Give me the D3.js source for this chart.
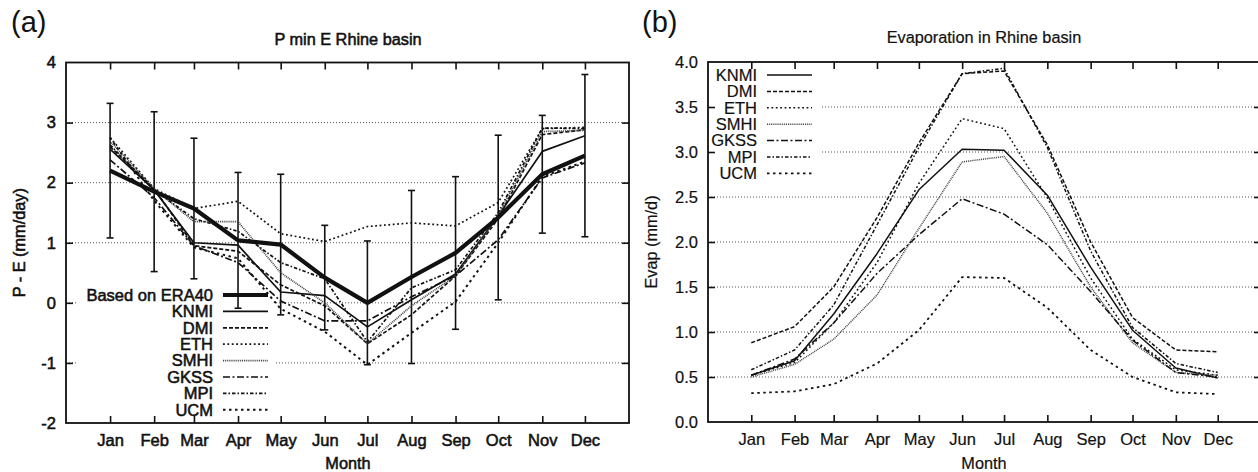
<!DOCTYPE html>
<html>
<head>
<meta charset="utf-8">
<script src="https://cdn.jsdelivr.net/npm/d3@7"></script>
<style>
  body { margin: 0; background: #fff; }
  svg { display: block; font-family: "Liberation Sans", Arial, Helvetica, sans-serif; }
</style>
</head>
<body>
<svg id="chart" width="1258" height="472"></svg>
<script>
// ---- data ---------------------------------------------------------------
const months = ["Jan", "Feb", "Mar", "Apr", "May", "Jun", "Jul", "Aug", "Sep", "Oct", "Nov", "Dec"];
const modelNames = ["KNMI", "DMI", "ETH", "SMHI", "GKSS", "MPI", "UCM"];

// P - E (mm/day)
const pmeEra40    = [2.20, 1.85, 1.57, 1.04, 0.97, 0.42, 0.00, 0.43, 0.83, 1.42, 2.14, 2.45];
const pmeEra40Std = [1.12, 1.33, 1.17, 1.13, 1.17, 0.87, 1.03, 1.44, 1.27, 1.37, 0.98, 1.35];
const pmeKNMI = [2.56, 1.88, 1.00, 0.96, 0.18, 0.12, -0.40, 0.05, 0.48, 1.45, 2.52, 2.78];
const pmeDMI  = [2.60, 1.90, 0.95, 0.86, 0.30, -0.05, -0.68, -0.20, 0.45, 1.40, 2.80, 2.88];
const pmeETH  = [2.75, 1.90, 1.57, 1.69, 1.15, 1.02, 1.27, 1.33, 1.28, 1.67, 2.90, 2.92];
const pmeSMHI = [2.69, 1.90, 1.35, 1.35, 0.50, 0.00, -0.68, -0.05, 0.45, 1.45, 2.85, 2.87];
const pmeGKSS = [2.38, 1.75, 0.95, 0.67, 0.03, -0.30, -0.30, 0.10, 0.45, 1.05, 2.08, 2.33];
const pmeMPI  = [2.63, 1.88, 1.40, 1.19, 0.67, 0.40, -0.65, 0.25, 0.55, 1.50, 2.91, 2.90];
const pmeUCM  = [2.75, 1.70, 0.92, 0.74, -0.10, -0.48, -1.03, -0.50, 0.02, 1.00, 2.10, 2.35];

// Evaporation (mm/d)
const evapKNMI = [0.52, 0.68, 1.20, 1.87, 2.58, 3.03, 3.02, 2.52, 1.72, 1.02, 0.60, 0.49];
const evapDMI  = [0.88, 1.06, 1.50, 2.27, 3.10, 3.87, 3.90, 3.08, 2.00, 1.16, 0.80, 0.78];
const evapETH  = [0.52, 0.66, 1.10, 1.77, 2.65, 3.37, 3.26, 2.49, 1.60, 0.92, 0.58, 0.52];
const evapSMHI = [0.50, 0.64, 0.92, 1.41, 2.15, 2.89, 2.95, 2.32, 1.50, 0.88, 0.55, 0.52];
const evapGKSS = [0.52, 0.70, 1.10, 1.65, 2.08, 2.48, 2.31, 1.97, 1.45, 0.91, 0.55, 0.50];
const evapMPI  = [0.58, 0.80, 1.30, 2.19, 3.05, 3.87, 3.93, 3.05, 1.90, 1.05, 0.65, 0.55];
const evapUCM  = [0.32, 0.34, 0.42, 0.65, 1.02, 1.61, 1.60, 1.27, 0.80, 0.50, 0.33, 0.31];

const pmeTicks  = [-2, -1, 0, 1, 2, 3, 4];
const evapTicks = [0, 0.5, 1, 1.5, 2, 2.5, 3, 3.5, 4];

// ---- drawing ------------------------------------------------------------
const svg = d3.select("#chart");
const ink = "#111";

// mid-month dates placed on a calendar axis
const monthDates = months.map((m, i) => new Date(Date.UTC(2001, i, 15)));
const xDomain = [new Date(Date.UTC(2000, 11, 15)), new Date(Date.UTC(2002, 0, 15))];

const modelStyle = {
  KNMI: { dash: null },
  DMI:  { dash: "4,2" },
  ETH:  { dash: "1.8,2.6" },
  SMHI: { dash: "1,0.9", color: "#444" },
  GKSS: { dash: "7,2.5,2,2.5" },
  MPI:  { dash: "3.5,2,1.5,2" },
  UCM:  { dash: "2.5,3.5" }
};

function styleText(sel, cfg) {
  sel.attr("fill", ink)
     .attr("stroke", ink)
     .attr("stroke-width", cfg.textStroke)
     .attr("font-family", "Liberation Sans, Arial, sans-serif");
}

function drawPanel(cfg) {
  const g = svg.append("g");
  const x = d3.scaleUtc().domain(xDomain).range([cfg.left, cfg.right]);
  const y = d3.scaleLinear().domain(cfg.yDomain).range([cfg.bottom, cfg.top]);

  // horizontal dotted grid
  g.append("g").selectAll("line")
    .data(cfg.ticks.filter(t => t > cfg.yDomain[0] && t < cfg.yDomain[1]))
    .join("line")
    .attr("x1", cfg.left).attr("x2", cfg.right)
    .attr("y1", d => y(d)).attr("y2", d => y(d))
    .attr("stroke", "#555").attr("stroke-width", 1)
    .attr("stroke-dasharray", "1,2");

  // opaque key area hides the grid behind it
  g.append("rect")
    .attr("x", cfg.keyBox[0]).attr("y", cfg.keyBox[1])
    .attr("width", cfg.keyBox[2]).attr("height", cfg.keyBox[3])
    .attr("fill", "#fff");

  // axes: ticks inward on all four sides
  const tickLen = 7;
  const axL = d3.axisLeft(y).tickValues(cfg.ticks).tickFormat(cfg.fmt).tickSizeInner(-tickLen).tickSizeOuter(0).tickPadding(10);
  const axR = d3.axisRight(y).tickValues(cfg.ticks).tickFormat("").tickSizeInner(-tickLen).tickSizeOuter(0);
  const axB = d3.axisBottom(x).tickValues(monthDates).tickFormat((d, i) => months[i]).tickSizeInner(-tickLen).tickSizeOuter(0).tickPadding(11);
  const axT = d3.axisTop(x).tickValues(monthDates).tickFormat("").tickSizeInner(-tickLen).tickSizeOuter(0);

  const gl = g.append("g").attr("transform", `translate(${cfg.left},0)`).call(axL);
  const gr = g.append("g").attr("transform", `translate(${cfg.right},0)`).call(axR);
  const gb = g.append("g").attr("transform", `translate(0,${cfg.bottom})`).call(axB);
  const gt = g.append("g").attr("transform", `translate(0,${cfg.top})`).call(axT);
  [gl, gr, gb, gt].forEach(a => {
    a.select(".domain").remove();
    a.selectAll(".tick line").attr("stroke", ink).attr("stroke-width", 1.6);
    a.selectAll("text").attr("font-size", 16.5).call(styleText, cfg);
  });
  gl.selectAll(".tick line").filter(d => d === cfg.yDomain[0] || d === cfg.yDomain[1]).remove();
  gr.selectAll(".tick line").filter(d => d === cfg.yDomain[0] || d === cfg.yDomain[1]).remove();

  // frame
  g.append("rect")
    .attr("x", cfg.left).attr("y", cfg.top)
    .attr("width", cfg.right - cfg.left).attr("height", cfg.bottom - cfg.top)
    .attr("fill", "none").attr("stroke", ink).attr("stroke-width", 1.8);

  const line = d3.line().x((d, i) => x(monthDates[i])).y(d => y(d));

  // error bars
  if (cfg.errBase) {
    const eb = g.append("g").attr("stroke", ink).attr("stroke-width", 1.6);
    cfg.errBase.forEach((v, i) => {
      const cx = x(monthDates[i]);
      const lo = y(v - cfg.errStd[i]), hi = y(v + cfg.errStd[i]);
      eb.append("line").attr("x1", cx).attr("x2", cx).attr("y1", lo).attr("y2", hi);
      eb.append("line").attr("x1", cx - 3.5).attr("x2", cx + 3.5).attr("y1", lo).attr("y2", lo);
      eb.append("line").attr("x1", cx - 3.5).attr("x2", cx + 3.5).attr("y1", hi).attr("y2", hi);
    });
  }

  // model curves
  cfg.series.forEach(s => {
    g.append("path").datum(s.values)
      .attr("d", line)
      .attr("fill", "none")
      .attr("stroke", s.color || ink)
      .attr("stroke-width", s.width)
      .attr("stroke-linejoin", "round")
      .attr("stroke-dasharray", s.dash);
  });

  // key
  const key = g.append("g");
  cfg.keyOrder.forEach((s, i) => {
    const yy = cfg.keyY0 + i * cfg.keyStep;
    key.append("text")
      .attr("x", cfg.keyTextX).attr("y", yy).attr("dy", "0.35em")
      .attr("text-anchor", "end").attr("font-size", 16.5)
      .call(styleText, cfg)
      .text(s.name);
    key.append("line")
      .attr("x1", cfg.keyLine[0]).attr("x2", cfg.keyLine[1])
      .attr("y1", yy).attr("y2", yy)
      .attr("stroke", s.color || ink).attr("stroke-width", s.width)
      .attr("stroke-dasharray", s.dash);
  });

  // titles
  g.append("text").attr("x", cfg.titleX).attr("y", cfg.titleY)
    .attr("text-anchor", "middle").attr("font-size", 16.3).call(styleText, cfg).text(cfg.title);
  g.append("text").attr("x", cfg.titleX).attr("y", 469)
    .attr("text-anchor", "middle").attr("font-size", 16.3).call(styleText, cfg).text("Month");
  g.append("text")
    .attr("transform", `translate(${cfg.yLabelX},${(cfg.top + cfg.bottom) / 2}) rotate(-90)`)
    .attr("text-anchor", "middle").attr("dy", "0.35em")
    .attr("font-size", 16.3).call(styleText, cfg).text(cfg.yLabel);
  g.append("text").attr("x", cfg.letterX).attr("y", 32)
    .attr("font-size", 29).attr("fill", ink).text(cfg.letter);
}

// panel (a): P - E
const pmeSeries = [
  { name: "KNMI", values: pmeKNMI },
  { name: "DMI",  values: pmeDMI },
  { name: "ETH",  values: pmeETH },
  { name: "SMHI", values: pmeSMHI },
  { name: "GKSS", values: pmeGKSS },
  { name: "MPI",  values: pmeMPI },
  { name: "UCM",  values: pmeUCM }
].map(s => Object.assign(s, modelStyle[s.name], { width: s.name === "UCM" ? 2 : 1.7 }));
const era40 = { name: "Based on ERA40", values: pmeEra40, dash: null, width: 4.2 };

drawPanel({
  left: 66, right: 629, top: 62.5, bottom: 423,
  yDomain: [-2, 4], ticks: pmeTicks, fmt: d => String(d),
  errBase: pmeEra40, errStd: pmeEra40Std,
  series: pmeSeries.concat([era40]),
  keyOrder: [era40].concat(pmeSeries),
  keyBox: [76, 285, 200, 134],
  keyY0: 295, keyStep: 16.4, keyTextX: 213, keyLine: [223, 268],
  title: "P min E Rhine basin", titleX: 348, titleY: 45,
  yLabel: "P - E (mm/day)", yLabelX: 19,
  letter: "(a)", letterX: 11,
  textStroke: 0.55
});

// panel (b): evaporation
const evapSeries = [
  { name: "KNMI", values: evapKNMI },
  { name: "DMI",  values: evapDMI },
  { name: "ETH",  values: evapETH },
  { name: "SMHI", values: evapSMHI },
  { name: "GKSS", values: evapGKSS },
  { name: "MPI",  values: evapMPI },
  { name: "UCM",  values: evapUCM }
].map(s => Object.assign(s, modelStyle[s.name], { width: s.name === "UCM" ? 1.8 : 1.5 }));

drawPanel({
  left: 708, right: 1261, top: 62, bottom: 422,
  yDomain: [0, 4], ticks: evapTicks, fmt: d3.format(".1f"),
  errBase: null,
  series: evapSeries,
  keyOrder: evapSeries,
  keyBox: [711, 64, 111, 118],
  keyY0: 75, keyStep: 16.4, keyTextX: 757, keyLine: [767, 812],
  title: "Evaporation in Rhine basin", titleX: 984, titleY: 43,
  yLabel: "Evap (mm/d)", yLabelX: 651,
  letter: "(b)", letterX: 642,
  textStroke: 0.2
});
</script>
</body>
</html>
